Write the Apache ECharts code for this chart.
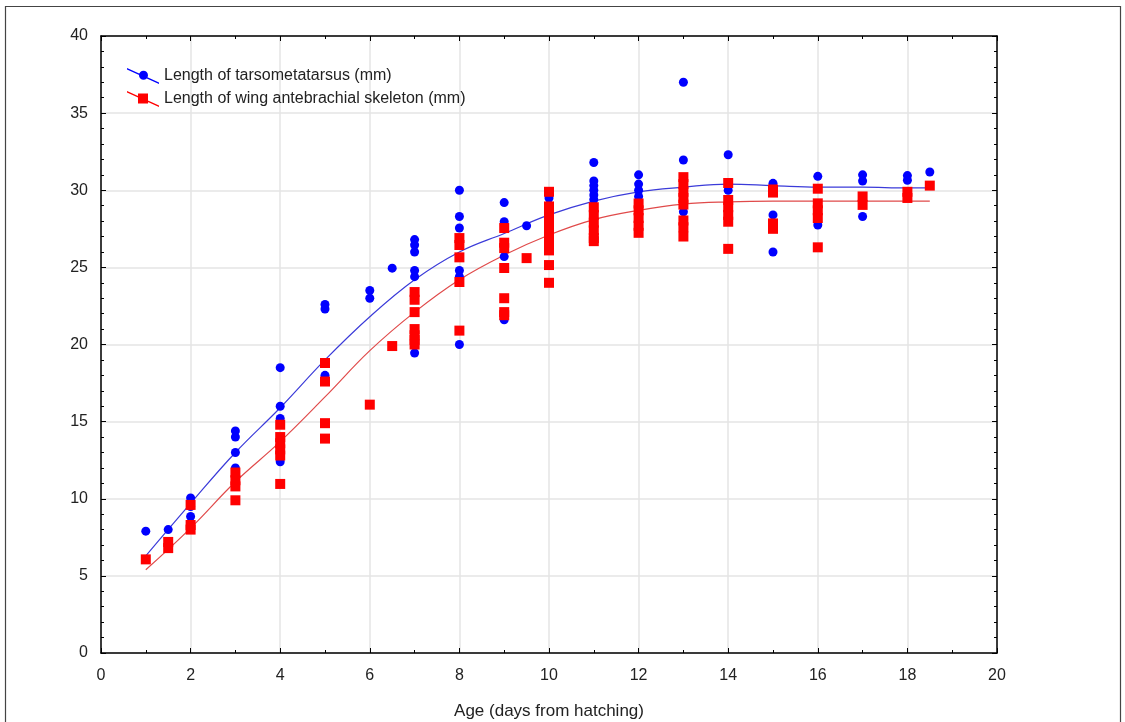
<!DOCTYPE html>
<html>
<head>
<meta charset="utf-8">
<script src="https://cdn.jsdelivr.net/npm/echarts@6/dist/echarts.min.js"></script>
<style>
  html, body { margin: 0; padding: 0; background: #fff; }
  #growth-chart { width: 1125px; height: 722px; }
</style>
</head>
<body>
<div id="growth-chart"></div>
<script>
// measured points: [age in days, length in mm]
var tarsusPoints = [
    [1, 7.9], [1.5, 8.0], [2, 10.05], [2, 9.5], [2, 8.85],
    [3, 14.4], [3, 14.0], [3, 13.0], [3, 12.0],
    [4, 18.5], [4, 16.0], [4, 15.2], [4, 12.4],
    [5, 22.6], [5, 22.3], [5, 18.0],
    [6, 23.5], [6, 23.0], [6.5, 24.95],
    [7, 26.8], [7, 26.45], [7, 26.0], [7, 24.8], [7, 24.4], [7, 19.45],
    [8, 30.0], [8, 28.3], [8, 27.55], [8, 24.8], [8, 24.4], [8, 20.0],
    [9, 29.2], [9, 27.96], [9, 25.7], [9, 21.6], [9.5, 27.7],
    [10, 29.5], [10, 28.5],
    [11, 31.8], [11, 30.6], [11, 30.3], [11, 30.0], [11, 29.7], [11, 29.4], [11, 28.6],
    [12, 31.0], [12, 30.4], [12, 30.0], [12, 29.6],
    [13, 37.0], [13, 31.96], [13, 28.6],
    [14, 32.3], [14, 30.0],
    [15, 30.45], [15, 28.4], [15, 26.0],
    [16, 30.9], [16, 27.75],
    [17, 31.0], [17, 30.6], [17, 28.3],
    [18, 30.95], [18, 30.65], [18.5, 31.18]
];

var wingPoints = [
    [1, 6.07], [1.5, 7.2], [1.5, 6.8], [2, 9.6], [2, 8.3], [2, 8.0],
    [3, 11.7], [3, 11.2], [3, 10.8], [3, 9.9],
    [4, 14.8], [4, 14.0], [4, 13.6], [4, 13.2], [4, 12.8], [4, 10.96],
    [5, 18.8], [5, 17.6], [5, 14.9], [5, 13.9],
    [6, 16.1], [6.5, 19.9],
    [7, 23.4], [7, 22.9], [7, 22.1], [7, 21.0], [7, 20.6], [7, 20.3], [7, 20.0],
    [8, 26.9], [8, 26.45], [8, 25.65], [8, 24.05], [8, 20.9],
    [9, 27.55], [9, 26.6], [9, 26.25], [9, 24.96], [9, 23.0], [9, 22.1], [9, 21.9],
    [9.5, 25.6],
    [10, 29.9], [10, 28.95], [10, 28.5], [10, 28.0], [10, 27.5], [10, 27.0], [10, 26.5], [10, 26.1], [10, 25.15], [10, 24.0],
    [11, 28.9], [11, 28.4], [11, 27.9], [11, 27.4], [11, 26.9], [11, 26.7],
    [12, 29.14], [12, 28.7], [12, 28.2], [12, 27.7], [12, 27.24],
    [13, 30.85], [13, 30.4], [13, 29.9], [13, 29.5], [13, 29.07], [13, 28.04], [13, 27.6], [13, 27.0],
    [14, 30.47], [14, 29.37], [14, 28.9], [14, 28.4], [14, 27.96], [14, 26.2],
    [15, 30.05], [15, 29.85], [15, 27.85], [15, 27.5],
    [16, 30.1], [16, 29.15], [16, 28.7], [16, 28.2], [16, 26.3],
    [17, 29.6], [17, 29.05],
    [18, 29.9], [18, 29.5], [18.5, 30.3]
];

// fitted curves
var fitAges = [1, 2, 3, 4, 5, 6, 7, 8, 9, 10, 11, 12, 13, 14, 15, 16, 17, 18, 18.5];
var tarsusFit = [6.3, 9.7, 13.0, 15.9, 19.0, 21.8, 24.2, 26.0, 27.2, 28.4, 29.3, 29.9, 30.2, 30.4, 30.3, 30.2, 30.2, 30.15, 30.15];
var wingFit = [5.4, 8.1, 11.1, 13.7, 16.6, 19.6, 22.1, 24.2, 25.8, 27.1, 28.1, 28.7, 29.1, 29.25, 29.3, 29.3, 29.3, 29.3, 29.3];

var xTicks = [0, 2, 4, 6, 8, 10, 12, 14, 16, 18, 20];
var yTicks = [0, 5, 10, 15, 20, 25, 30, 35, 40];

var tarsusName = 'Length of tarsometatarsus (mm)';
var wingName = 'Length of wing antebrachial skeleton (mm)';

var font = '"Liberation Sans", Arial, sans-serif';

function zip(xs, ys) {
    return xs.map((x, i) => [x, ys[i]]);
}

var chartDom = document.getElementById('growth-chart');
var growthChart = echarts.init(chartDom, null, { renderer: 'canvas' });

var boxAxisLine = { show: true, onZero: false, lineStyle: { color: '#000', width: 1.5 } };

var option = {
    animation: false,
    backgroundColor: '#fff',
    textStyle: { fontFamily: font },
    graphic: [
        {
            type: 'rect',
            shape: { x: 5.5, y: 6.5, width: 1115, height: 760 },
            style: { fill: 'none', stroke: '#444', lineWidth: 1.2 },
            silent: true
        }
    ],
    grid: { left: 101, right: 128, top: 36, bottom: 69, containLabel: false, outerBoundsMode: 'none' },
    legend: {
        left: 122,
        top: 63,
        orient: 'vertical',
        itemGap: 7,
        itemWidth: 32,
        itemHeight: 16,
        textStyle: { fontFamily: font, fontSize: 16, color: '#222' },
        data: [
            {
                name: tarsusName,
                icon: 'path://M0,0 L32,14.6 L32,16 L0,1.4 Z M12,7.3 A4.5,4.5 0 1,1 21,7.3 A4.5,4.5 0 1,1 12,7.3 Z',
                itemStyle: { color: '#0000ff' }
            },
            {
                name: wingName,
                icon: 'path://M0,0 L32,14.6 L32,16 L0,1.4 Z M11,2.5 L21,2.5 L21,12.5 L11,12.5 Z',
                itemStyle: { color: '#ff0000' }
            }
        ]
    },
    xAxis: [
        {
            type: 'value',
            min: 0,
            max: 20,
            interval: 2,
            position: 'bottom',
            name: 'Age (days from hatching)',
            nameLocation: 'middle',
            nameGap: 50,
            nameTextStyle: { fontFamily: font, fontSize: 17, color: '#222' },
            axisLine: boxAxisLine,
            axisTick: { show: true, inside: true, length: 5, lineStyle: { color: '#000' } },
            minorTick: { show: true, splitNumber: 2, length: 3, lineStyle: { color: '#000' } },
            axisLabel: { fontFamily: font, fontSize: 16, color: '#222', margin: 15,
                customValues: xTicks },
            splitLine: { show: true, lineStyle: { color: '#e4e4e4', width: 1.5 } }
        },
        {
            type: 'value',
            min: 0,
            max: 20,
            interval: 2,
            position: 'top',
            axisLine: boxAxisLine,
            axisTick: { show: true, inside: true, length: 5, lineStyle: { color: '#000' } },
            minorTick: { show: true, splitNumber: 2, length: 3, lineStyle: { color: '#000' } },
            axisLabel: { show: false },
            splitLine: { show: false }
        }
    ],
    yAxis: [
        {
            type: 'value',
            min: 0,
            max: 40,
            interval: 5,
            position: 'left',
            axisLine: boxAxisLine,
            axisTick: { show: true, inside: true, length: 5, lineStyle: { color: '#000' } },
            minorTick: { show: true, splitNumber: 5, length: 3, lineStyle: { color: '#000' } },
            axisLabel: { fontFamily: font, fontSize: 16, color: '#222', margin: 13,
                customValues: yTicks },
            splitLine: { show: true, lineStyle: { color: '#e4e4e4', width: 1.5 } }
        },
        {
            type: 'value',
            min: 0,
            max: 40,
            interval: 5,
            position: 'right',
            axisLine: boxAxisLine,
            axisTick: { show: true, inside: true, length: 5, lineStyle: { color: '#000' } },
            minorTick: { show: true, splitNumber: 5, length: 3, lineStyle: { color: '#000' } },
            axisLabel: { show: false },
            splitLine: { show: false }
        }
    ],
    series: [
        {
            name: 'tarsus fit',
            type: 'line',
            data: zip(fitAges, tarsusFit),
            smooth: 0.4,
            showSymbol: false,
            silent: true,
            z: 1,
            lineStyle: { color: '#3b3bd9', width: 1.2 }
        },
        {
            name: 'wing fit',
            type: 'line',
            data: zip(fitAges, wingFit),
            smooth: 0.4,
            showSymbol: false,
            silent: true,
            z: 1,
            lineStyle: { color: '#e04a4a', width: 1.2 }
        },
        {
            name: tarsusName,
            type: 'scatter',
            data: tarsusPoints,
            symbol: 'circle',
            symbolSize: 9,
            z: 2,
            itemStyle: { color: '#0000ff', opacity: 1 }
        },
        {
            name: wingName,
            type: 'scatter',
            data: wingPoints,
            symbol: 'rect',
            symbolSize: 10,
            z: 3,
            itemStyle: { color: '#ff0000', opacity: 1 }
        }
    ]
};

option && growthChart.setOption(option);

window.addEventListener('resize', () => {
    growthChart.resize();
});
</script>
</body>
</html>
